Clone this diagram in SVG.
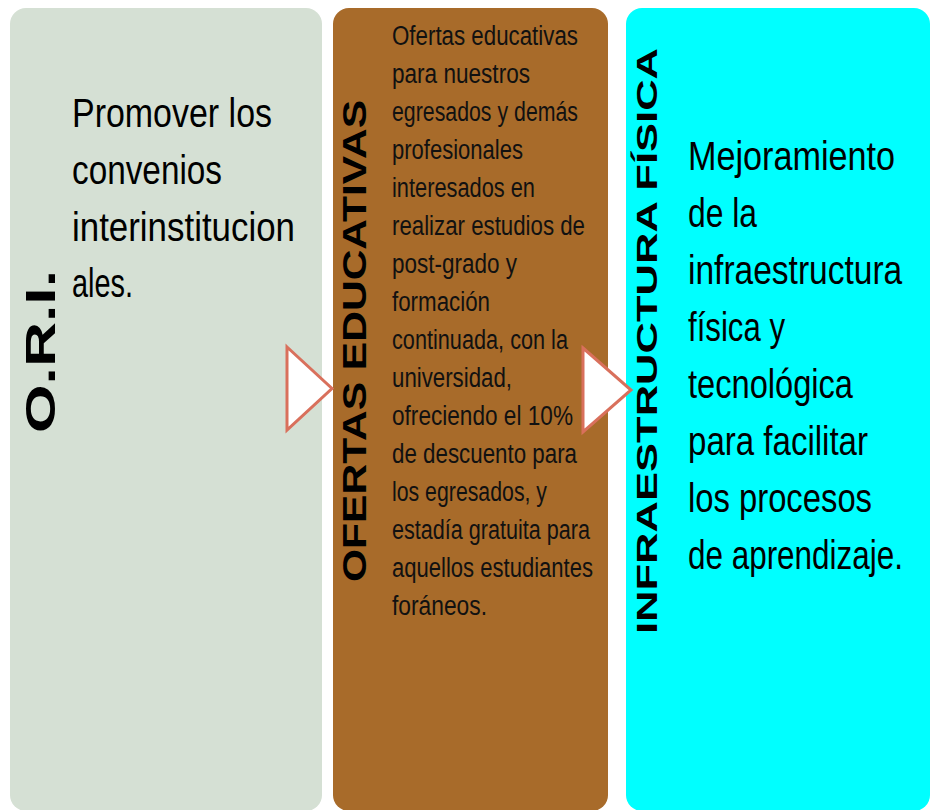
<svg xmlns="http://www.w3.org/2000/svg" width="931" height="810" viewBox="0 0 931 810">
<style>
.t{font-family:"Liberation Sans",Arial,sans-serif;fill:#000;}
.big{font-size:40px;}
.mid{font-size:27px;fill:#111;}
.lab{font-family:"Liberation Sans",Arial,sans-serif;font-weight:bold;fill:#000;}
.arrow{fill:#fff;stroke:#d9705c;stroke-width:3;stroke-linejoin:miter;}
</style>
<rect width="931" height="810" fill="#fff"/>
<g id="node-ori">
<rect x="10" y="8" width="312" height="803" rx="16" fill="#d5e0d4"/>
<text class="lab" font-size="42" transform="translate(55,433) rotate(-90)" textLength="163" lengthAdjust="spacingAndGlyphs">O.R.I.</text>
<g class="t big">
<text x="72" y="127" textLength="200" lengthAdjust="spacingAndGlyphs">Promover los</text>
<text x="72" y="184" textLength="150" lengthAdjust="spacingAndGlyphs">convenios</text>
<text x="72" y="241" textLength="223" lengthAdjust="spacingAndGlyphs">interinstitucion</text>
<text x="72" y="297" textLength="61" lengthAdjust="spacingAndGlyphs">ales.</text>
</g>
</g>
<g id="node-ofertas">
<rect x="333" y="8" width="275" height="803" rx="16" fill="#a86b2a"/>
<text class="lab" font-size="34" transform="translate(366,582) rotate(-90)" textLength="482" lengthAdjust="spacingAndGlyphs">OFERTAS EDUCATIVAS</text>
<g class="t mid">
<text x="392" y="45" textLength="186" lengthAdjust="spacingAndGlyphs">Ofertas educativas</text>
<text x="392" y="83" textLength="138" lengthAdjust="spacingAndGlyphs">para nuestros</text>
<text x="392" y="121" textLength="186" lengthAdjust="spacingAndGlyphs">egresados y demás</text>
<text x="392" y="159" textLength="131" lengthAdjust="spacingAndGlyphs">profesionales</text>
<text x="392" y="197" textLength="143" lengthAdjust="spacingAndGlyphs">interesados en</text>
<text x="392" y="235" textLength="193" lengthAdjust="spacingAndGlyphs">realizar estudios de</text>
<text x="392" y="273" textLength="125" lengthAdjust="spacingAndGlyphs">post-grado y</text>
<text x="392" y="311" textLength="98" lengthAdjust="spacingAndGlyphs">formación</text>
<text x="392" y="349" textLength="176" lengthAdjust="spacingAndGlyphs">continuada, con la</text>
<text x="392" y="387" textLength="120" lengthAdjust="spacingAndGlyphs">universidad,</text>
<text x="392" y="425" textLength="181" lengthAdjust="spacingAndGlyphs">ofreciendo el 10%</text>
<text x="392" y="463" textLength="185" lengthAdjust="spacingAndGlyphs">de descuento para</text>
<text x="392" y="501" textLength="155" lengthAdjust="spacingAndGlyphs">los egresados, y</text>
<text x="392" y="539" textLength="198" lengthAdjust="spacingAndGlyphs">estadía gratuita para</text>
<text x="392" y="577" textLength="201" lengthAdjust="spacingAndGlyphs">aquellos estudiantes</text>
<text x="392" y="615" textLength="95" lengthAdjust="spacingAndGlyphs">foráneos.</text>
</g>
</g>
<g id="node-infra">
<rect x="626" y="8" width="304" height="803" rx="16" fill="#00ffff"/>
<text class="lab" font-size="30" transform="translate(657,634) rotate(-90)" textLength="586" lengthAdjust="spacingAndGlyphs">INFRAESTRUCTURA FÍSICA</text>
<g class="t big">
<text x="688" y="170" textLength="207" lengthAdjust="spacingAndGlyphs">Mejoramiento</text>
<text x="688" y="227" textLength="69" lengthAdjust="spacingAndGlyphs">de la</text>
<text transform="translate(688,284) scale(0.85,1)" x="0" y="0" textLength="252" lengthAdjust="spacingAndGlyphs">infraestructura</text>
<text x="688" y="341" textLength="97" lengthAdjust="spacingAndGlyphs">física y</text>
<text x="688" y="398" textLength="165" lengthAdjust="spacingAndGlyphs">tecnológica</text>
<text x="688" y="455" textLength="180" lengthAdjust="spacingAndGlyphs">para facilitar</text>
<text x="688" y="512" textLength="184" lengthAdjust="spacingAndGlyphs">los procesos</text>
<text transform="translate(688,569) scale(0.79,1)" x="0" y="0" textLength="272" lengthAdjust="spacingAndGlyphs">de aprendizaje.</text>
</g>
</g>
<g id="connectors">
<polygon class="arrow" points="287,347 332,388.5 287,430"/>
<polygon class="arrow" points="583,348 631,390 583,432"/>
</g>
</svg>
